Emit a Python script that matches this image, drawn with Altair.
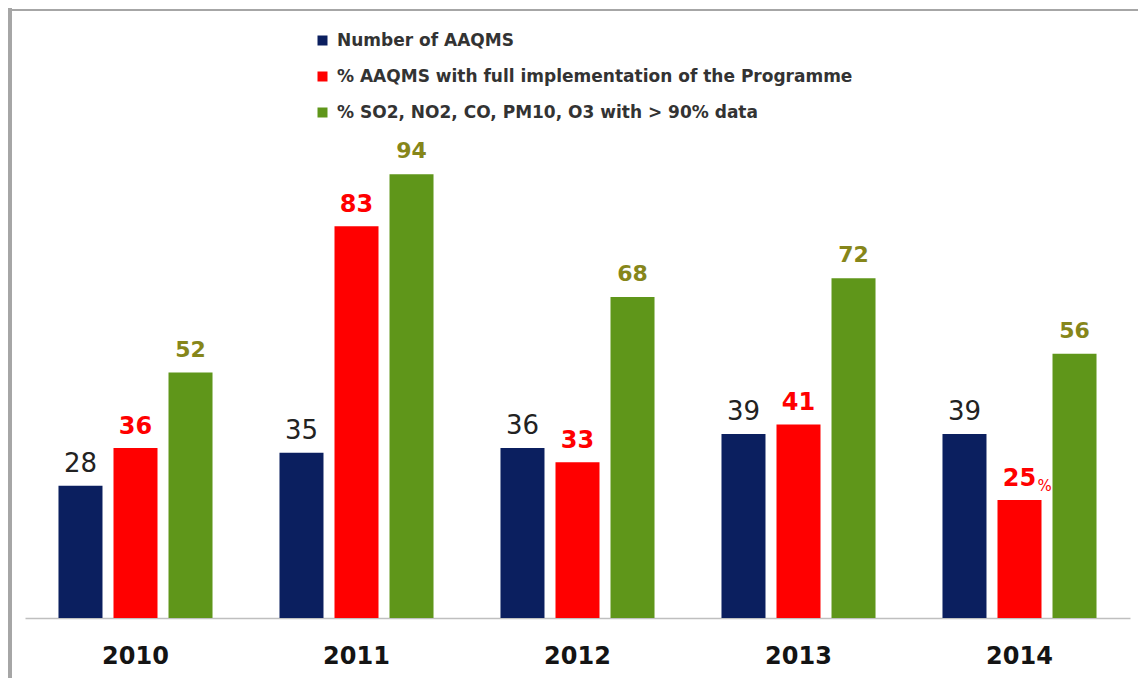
import altair as alt
import pandas as pd

years = ["2010", "2011", "2012", "2013", "2014"]
series_names = [
    "Number of AAQMS",
    "% AAQMS with full implementation of the Programme",
    "% SO2, NO2, CO, PM10, O3 with > 90% data",
]
aaqms = [28, 35, 36, 39, 39]
full_impl = [36, 83, 33, 41, 25]
data90 = [52, 94, 68, 72, 56]
suffixes = ["", "", "", "", "%"]
colors = ["#0B1F5F", "#FF0000", "#5F961A"]
label_colors = ["#222222", "#FF0000", "#86861A"]

rows = []
for s, vals in zip(series_names, [aaqms, full_impl, data90]):
    for i, (y, v) in enumerate(zip(years, vals)):
        rows.append({"year": y, "series": s, "value": v, "label": str(v),
                     "suffix": suffixes[i] if s == series_names[1] else ""})
df = pd.DataFrame(rows)

x_enc = alt.X("year:N", sort=years, title=None,
              scale=alt.Scale(paddingInner=0.303, paddingOuter=0.1515),
              axis=alt.Axis(labelAngle=0, ticks=False, domainColor="#BFBFBF",
                            domainWidth=1.5, labelFont="DejaVu Sans",
                            labelFontWeight="bold", labelFontSize=24,
                            labelColor="#141414", labelPadding=26))
xo_enc = alt.XOffset("series:N", sort=series_names,
                     scale=alt.Scale(paddingInner=0.2, paddingOuter=0))
y_enc = alt.Y("value:Q", scale=alt.Scale(domain=[0, 100], nice=False), axis=None)

base = alt.Chart(df)

bars = base.mark_bar().encode(
    x=x_enc,
    xOffset=xo_enc,
    y=y_enc,
    color=alt.Color("series:N", sort=series_names,
                    scale=alt.Scale(domain=series_names, range=colors),
                    legend=alt.Legend(title=None, orient="none", legendX=289, legendY=-114,
                                      symbolType="square", symbolSize=100,
                                      symbolStrokeWidth=0, labelFont="DejaVu Sans",
                                      labelFontWeight="bold", labelFontSize=17,
                                      labelColor="#333333", rowPadding=18,
                                      labelLimit=0, labelOffset=6)),
)

layers = [bars]
specs = [
    (series_names[0], label_colors[0], "normal", 26, -9),
    (series_names[1], label_colors[1], "bold", 24, -9),
    (series_names[2], label_colors[2], "bold", 22, -11),
]
for s, c, w, fs, dy in specs:
    layers.append(
        base.transform_filter(alt.datum.series == s).mark_text(
            baseline="bottom", dy=dy, font="DejaVu Sans", fontWeight=w,
            fontSize=fs, color=c
        ).encode(x=x_enc, xOffset=xo_enc, y=y_enc, text="label:N")
    )

layers.append(
    base.transform_filter(alt.datum.suffix != "").mark_text(
        baseline="bottom", dy=-6, dx=25, font="DejaVu Sans", fontSize=15, color="#FF0000"
    ).encode(x=x_enc, xOffset=xo_enc, y=y_enc, text="suffix:N")
)

frame = pd.DataFrame({"k": [0]})
left_edge = alt.Chart(frame).mark_rule(color="#A6A6A6", strokeWidth=4).encode(
    x=alt.value(-15), y=alt.value(-138), y2=alt.value(560))
top_edge = alt.Chart(frame).mark_rule(color="#A6A6A6", strokeWidth=2).encode(
    y=alt.value(-136), x=alt.value(-17), x2=alt.value(1113))
layers += [left_edge, top_edge]

chart = alt.layer(*layers).properties(
    width=1105, height=472,
    autosize=alt.AutoSizeParams(type="none"),
    padding={"left": 17, "top": 138, "right": 8, "bottom": 60},
    background="white",
).configure_view(stroke=None)

chart.save("out.html", embed_options={"renderer": "svg", "actions": False})
